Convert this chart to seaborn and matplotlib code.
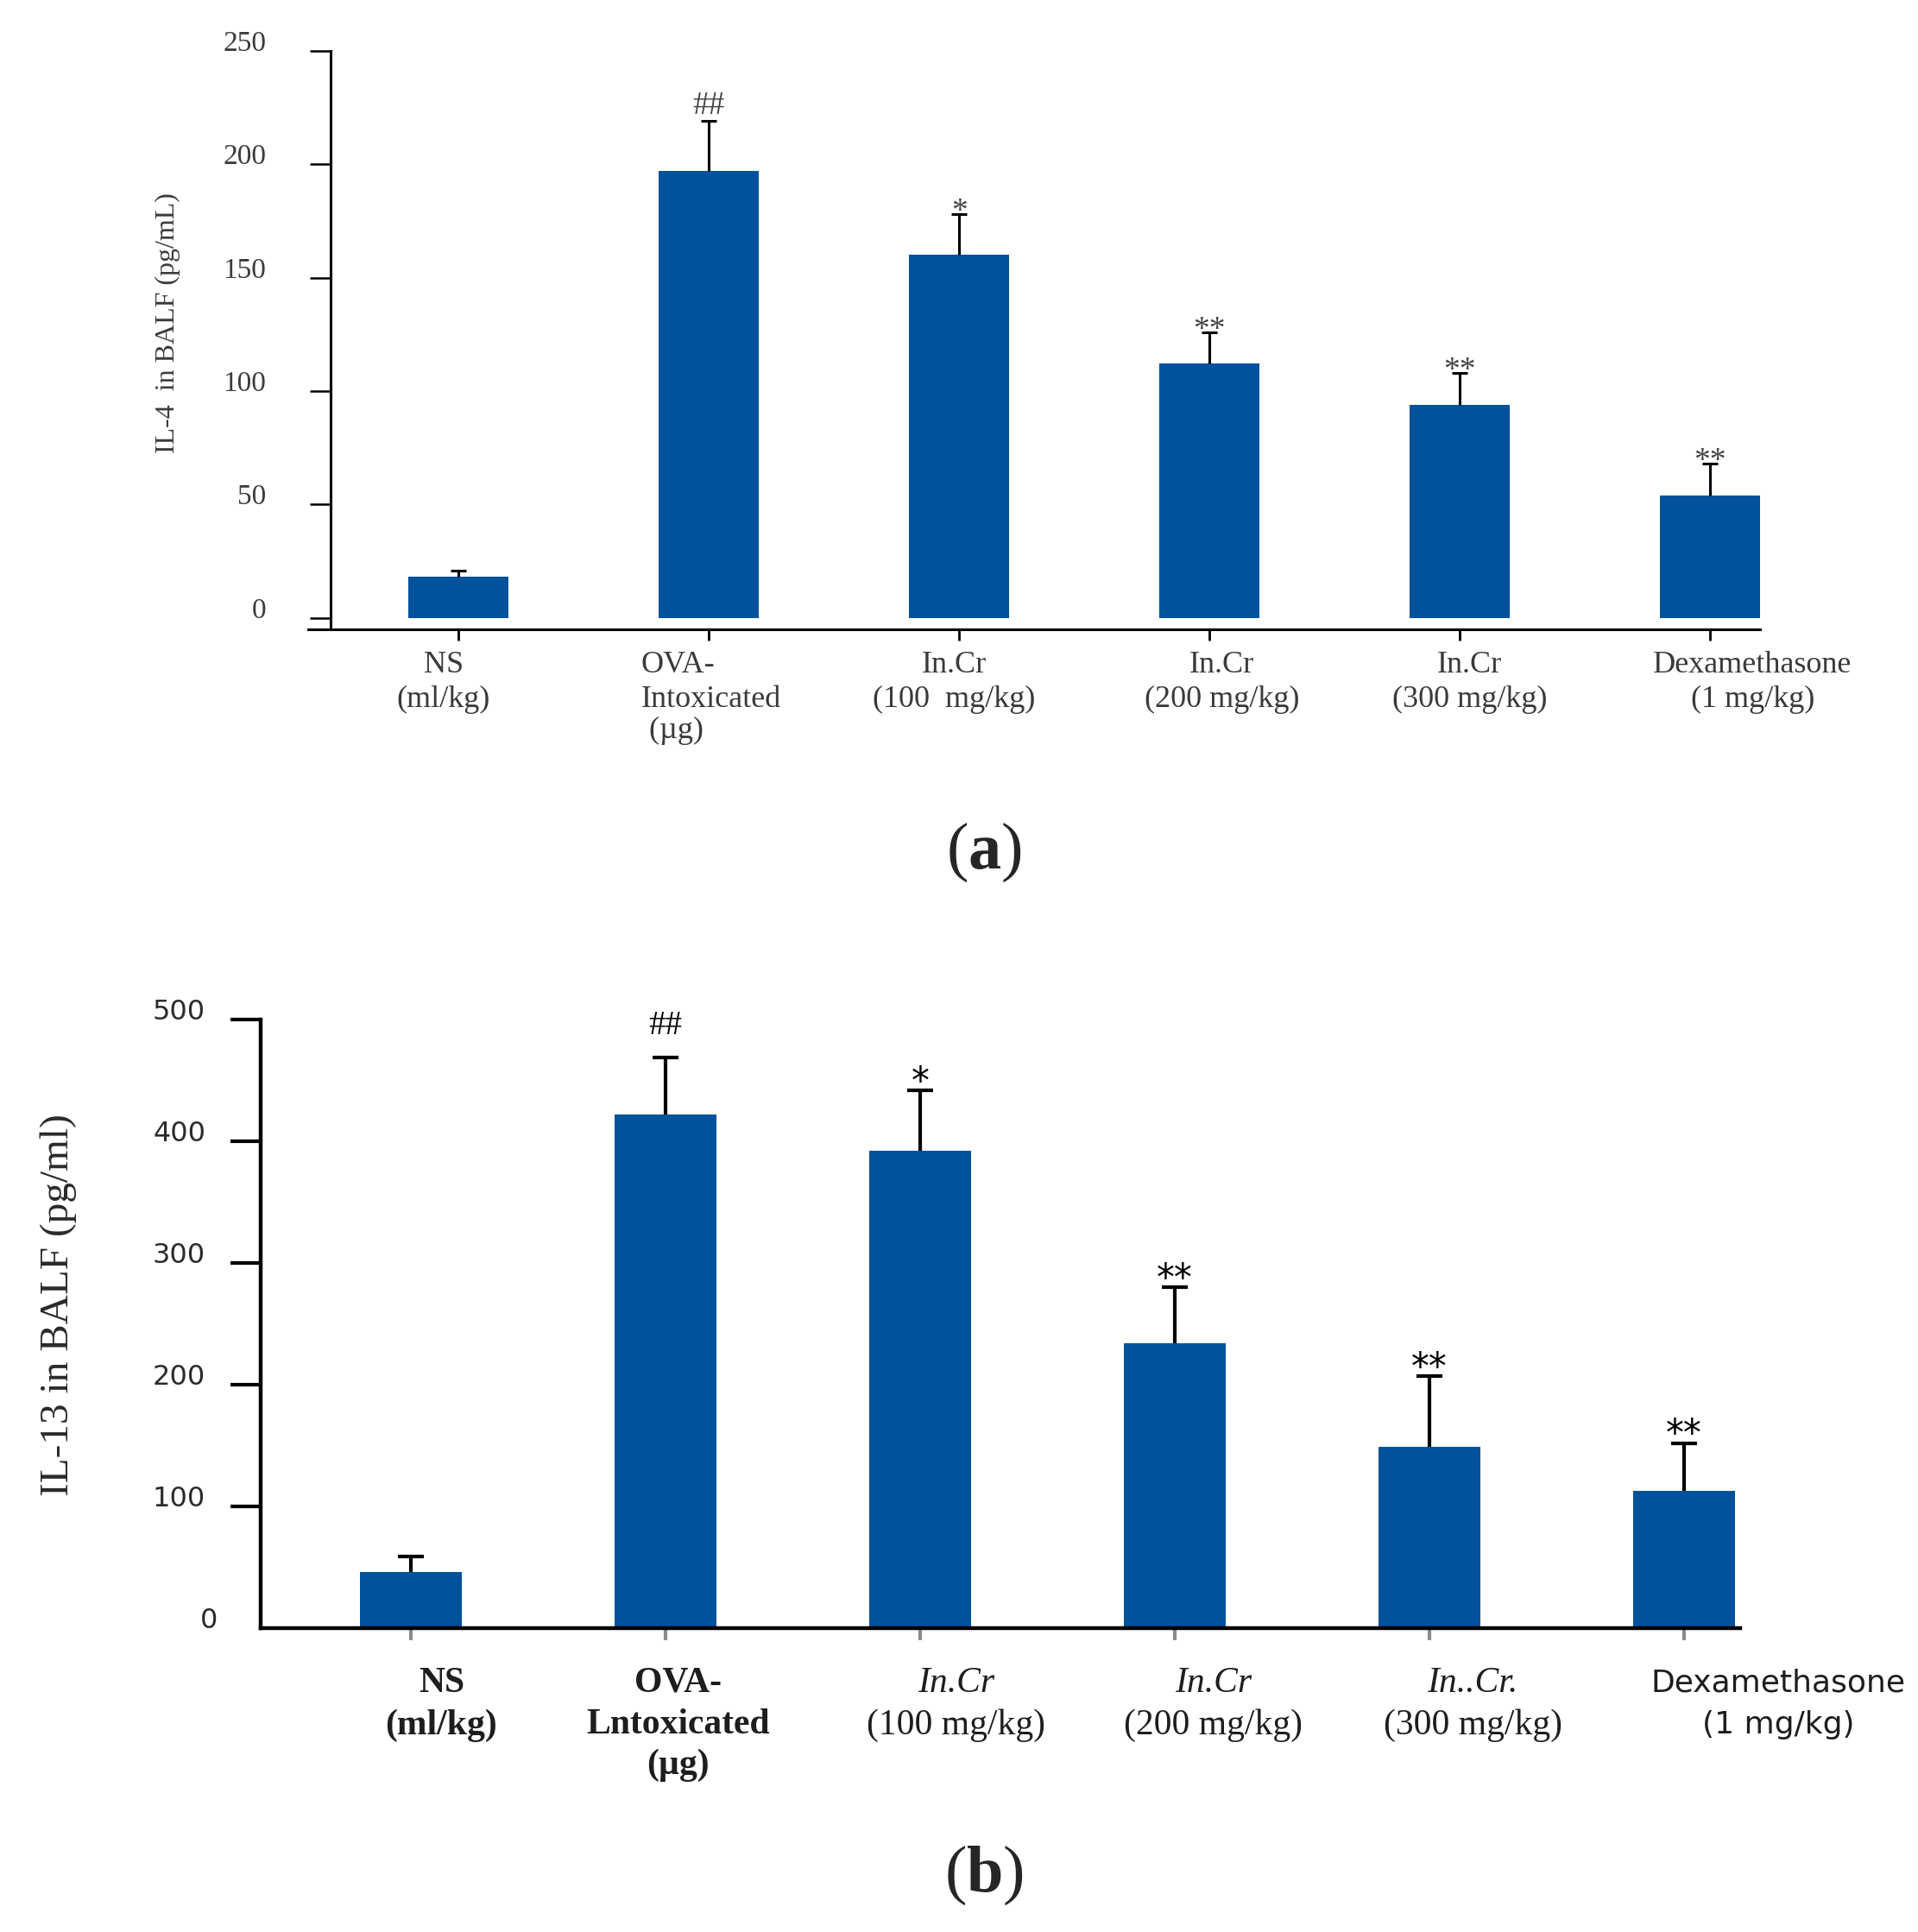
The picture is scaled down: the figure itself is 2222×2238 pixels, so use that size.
import numpy as np
import seaborn as sns
import matplotlib.pyplot as plt

# groups on the x axis (same order in both panels)
groups = ["NS", "OVA", "InCr100", "InCr200", "InCr300", "Dexa"]

# panel (a): IL-4
il4_mean = [18, 197, 160, 112, 94, 54]
il4_err = [3, 22, 18, 14, 14, 14]
il4_marks = ["", "##", "*", "**", "**", "**"]
il4_ticks = [0, 50, 100, 150, 200, 250]
top_line1 = ["NS", "OVA-", "In.Cr", "In.Cr", "In.Cr", "Dexamethasone"]
top_line2 = ["(ml/kg)", "Intoxicated", "(100  mg/kg)", "(200 mg/kg)", "(300 mg/kg)", "(1 mg/kg)"]
top_line3 = ["", " (\u00b5g)", "", "", "", ""]

# panel (b): IL-13
il13_mean = [46, 422, 392, 234, 149, 113]
il13_err = [13, 47, 50, 46, 58, 39]
il13_marks = ["", "##", "*", "**", "**", "**"]
il13_ticks = [0, 100, 200, 300, 400, 500]
bot_line1 = ["NS", "OVA-", "In.Cr", "In.Cr", "In..Cr.", "Dexamethasone"]
bot_line2 = ["(ml/kg)", "Lntoxicated", "(100 mg/kg)", "(200 mg/kg)", "(300 mg/kg)", "(1 mg/kg)"]
bot_line3 = ["", "(\u00b5g)", "", "", "", ""]

BLUE = "#01529b"

sns.set_theme(style="ticks")
plt.rcParams["font.family"] = ["Liberation Serif", "DejaVu Serif"]
plt.rcParams["mathtext.fontset"] = "custom"
plt.rcParams["mathtext.rm"] = "Liberation Serif"
plt.rcParams["mathtext.bf"] = "Liberation Serif:bold"

fig = plt.figure(figsize=(22.22, 22.38), dpi=100)
ax_a = fig.add_axes([0.1607, 0.6743, 0.757, 0.2994])
ax_b = fig.add_axes([0.1359, 0.1573, 0.7714, 0.3150])


def draw_bars(ax, means, errs, capsize, lw):
    sns.barplot(x=groups, y=means, order=groups, color=BLUE, width=0.4,
                saturation=1, linewidth=0, errorbar=None, ax=ax, zorder=2)
    eb = ax.errorbar(range(len(groups)), means, yerr=[np.zeros(len(errs)), errs],
                     fmt="none", ecolor="black", elinewidth=lw, capsize=capsize,
                     capthick=lw, zorder=3)
    eb[1][0].set_visible(False)  # only the upper cap
    ax.set_xlabel("")
    ax.set_xticks(range(len(groups)))
    ax.set_xticklabels([])
    sns.despine(ax=ax)


# ---------- (a) IL-4 ----------
draw_bars(ax_a, il4_mean, il4_err, capsize=6.5, lw=2.2)
ax_a.set_xlim(-0.6, 5.2)
ax_a.set_ylim(-5, 250)
ax_a.spines["left"].set_position(("data", -0.51))
ax_a.spines["left"].set_bounds(-5, 250)
for s in ["left", "bottom"]:
    ax_a.spines[s].set_linewidth(2.2)
    ax_a.spines[s].set_color("black")
ax_a.set_yticks(il4_ticks, [str(t) for t in il4_ticks], va="baseline")
ax_a.tick_params(axis="y", direction="out", length=17, width=1.8, labelsize=24,
                 labelcolor="#3c3c3c", pad=37, color="black")
ax_a.tick_params(axis="x", direction="out", length=9, width=2, color="black")
ax_a.set_ylabel("IL-4  in BALF (pg/mL)", fontsize=23, color="#3a3a3a")
ax_a.yaxis.set_label_coords(-0.088, 0.529)

top_dx = [-0.06, -0.27, -0.02, 0.05, 0.04, 0.17]
for i in range(len(groups)):
    ha = "left" if i == 1 else "center"
    for line, off in [(top_line1, 30), (top_line2, 59), (top_line3, 85)]:
        if line[i]:
            ax_a.annotate(line[i], xy=(i + top_dx[i], 0), xycoords=("data", "axes fraction"),
                          xytext=(0, -off), textcoords="offset points",
                          ha=ha, va="center", fontsize=26, color="#3a3a3a")
    mark = il4_marks[i]
    if mark:
        ax_a.annotate(mark, xy=(i, il4_mean[i] + il4_err[i]), xytext=(0, 6 if "#" in mark else -5),
                      textcoords="offset points", ha="center", va="baseline",
                      fontsize=27, color="#444444")

# ---------- (b) IL-13 ----------
draw_bars(ax_b, il13_mean, il13_err, capsize=11, lw=3)
ax_b.set_xlim(-0.59, 5.22)
ax_b.set_ylim(0, 500)
ax_b.spines["left"].set_bounds(0, 500)
for s in ["left", "bottom"]:
    ax_b.spines[s].set_linewidth(3.2)
    ax_b.spines[s].set_color("black")
ax_b.set_yticks(il13_ticks, [str(t) for t in il13_ticks], va="baseline",
                fontfamily="DejaVu Sans")
ax_b.tick_params(axis="y", direction="out", length=25, width=3, labelsize=23,
                 labelcolor="#2b2b2b", pad=21, color="black")
zero_tick = ax_b.yaxis.get_major_ticks()[0]
zero_tick.tick1line.set_visible(False)
zero_tick.label1.set_x(0.008)
ax_b.tick_params(axis="x", direction="out", length=10, width=3, color="#8c8c8c", pad=4)
ax_b.set_ylabel("IL-13 in BALF (pg/ml)", fontsize=34, color="#2a2a2a")
ax_b.yaxis.set_label_coords(-0.1243, 0.531)

bot_dx = [0.12, 0.05, 0.14, 0.15, 0.17, 0.37]
bot_style = [
    dict(family="Liberation Serif", weight="bold"),
    dict(family="Liberation Serif", weight="bold"),
    dict(family="Liberation Serif"),
    dict(family="Liberation Serif"),
    dict(family="Liberation Serif"),
    dict(family="DejaVu Sans", size=26),
]
for i in range(len(groups)):
    for k, (line, off) in enumerate([(bot_line1, 46), (bot_line2, 81), (bot_line3, 114)]):
        if not line[i]:
            continue
        style = dict(size=30)
        style.update(bot_style[i])
        if k == 0 and 2 <= i <= 4:
            style["style"] = "italic"
        ax_b.annotate(line[i], xy=(i + bot_dx[i], 0), xycoords=("data", "axes fraction"),
                      xytext=(0, -off), textcoords="offset points",
                      ha="center", va="center", color="#1e1e1e", **style)
    mark = il13_marks[i]
    if mark:
        if "#" in mark:
            ax_b.annotate(mark, xy=(i, il13_mean[i] + il13_err[i]), xytext=(0, 19),
                          textcoords="offset points", ha="center", va="baseline",
                          fontsize=28, color="black")
        else:
            ax_b.annotate(mark, xy=(i, il13_mean[i] + il13_err[i]), xytext=(0, -2),
                          textcoords="offset points", ha="center", va="baseline",
                          fontsize=30, color="black", family="DejaVu Sans")

fig.text(0.513, 0.559, r"($\mathbf{a}$)", ha="center", va="center", fontsize=55)
fig.text(0.513, 0.0295, r"($\mathbf{b}$)", ha="center", va="center", fontsize=55)

fig.savefig("out.png", dpi=100)
